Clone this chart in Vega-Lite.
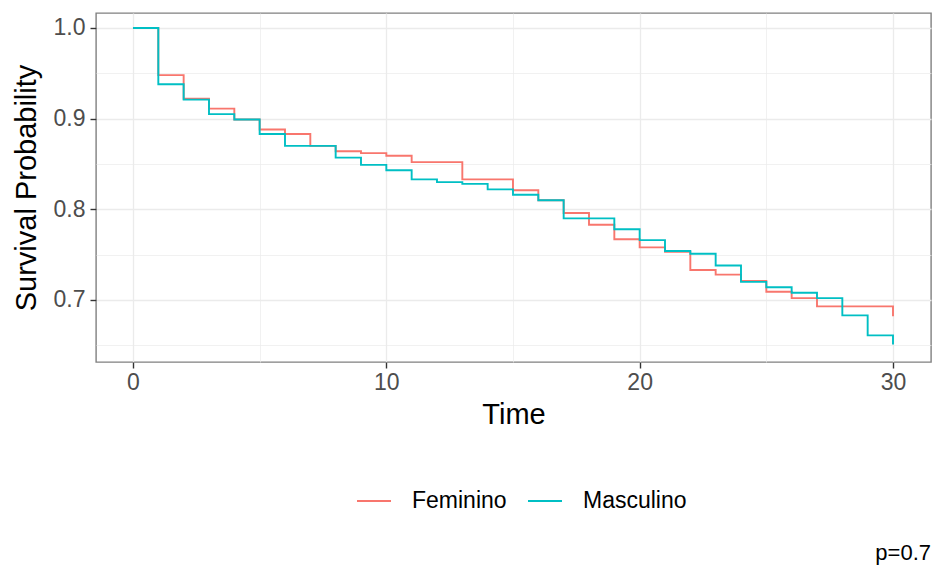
{
  "$schema": "https://vega.github.io/schema/vega-lite/v6.json",
  "width": 835,
  "height": 349,
  "autosize": "none",
  "padding": {"left": 96, "top": 13, "right": 2, "bottom": 205},
  "background": "white",
  "title": {"text": "p=0.7", "orient": "bottom", "anchor": "end", "fontSize": 22, "fontWeight": "normal", "font": "Liberation Sans", "color": "black", "offset": 30},
  "config": {
    "view": {"stroke": "#808080", "strokeWidth": 1.4},
    "font": "Liberation Sans"
  },
  "data": {
    "values": [
      {"time": 0, "surv": 1.0, "sex": "Feminino"},
      {"time": 1, "surv": 0.948, "sex": "Feminino"},
      {"time": 2, "surv": 0.922, "sex": "Feminino"},
      {"time": 3, "surv": 0.911, "sex": "Feminino"},
      {"time": 4, "surv": 0.899, "sex": "Feminino"},
      {"time": 5, "surv": 0.888, "sex": "Feminino"},
      {"time": 6, "surv": 0.883, "sex": "Feminino"},
      {"time": 7, "surv": 0.870, "sex": "Feminino"},
      {"time": 8, "surv": 0.864, "sex": "Feminino"},
      {"time": 9, "surv": 0.862, "sex": "Feminino"},
      {"time": 10, "surv": 0.859, "sex": "Feminino"},
      {"time": 11, "surv": 0.852, "sex": "Feminino"},
      {"time": 13, "surv": 0.833, "sex": "Feminino"},
      {"time": 15, "surv": 0.821, "sex": "Feminino"},
      {"time": 16, "surv": 0.810, "sex": "Feminino"},
      {"time": 17, "surv": 0.796, "sex": "Feminino"},
      {"time": 18, "surv": 0.783, "sex": "Feminino"},
      {"time": 19, "surv": 0.767, "sex": "Feminino"},
      {"time": 20, "surv": 0.758, "sex": "Feminino"},
      {"time": 21, "surv": 0.753, "sex": "Feminino"},
      {"time": 22, "surv": 0.733, "sex": "Feminino"},
      {"time": 23, "surv": 0.728, "sex": "Feminino"},
      {"time": 24, "surv": 0.721, "sex": "Feminino"},
      {"time": 25, "surv": 0.709, "sex": "Feminino"},
      {"time": 26, "surv": 0.702, "sex": "Feminino"},
      {"time": 27, "surv": 0.693, "sex": "Feminino"},
      {"time": 30, "surv": 0.682, "sex": "Feminino"},
      {"time": 0, "surv": 1.0, "sex": "Masculino"},
      {"time": 1, "surv": 0.938, "sex": "Masculino"},
      {"time": 2, "surv": 0.921, "sex": "Masculino"},
      {"time": 3, "surv": 0.905, "sex": "Masculino"},
      {"time": 4, "surv": 0.899, "sex": "Masculino"},
      {"time": 5, "surv": 0.883, "sex": "Masculino"},
      {"time": 6, "surv": 0.870, "sex": "Masculino"},
      {"time": 8, "surv": 0.857, "sex": "Masculino"},
      {"time": 9, "surv": 0.849, "sex": "Masculino"},
      {"time": 10, "surv": 0.843, "sex": "Masculino"},
      {"time": 11, "surv": 0.833, "sex": "Masculino"},
      {"time": 12, "surv": 0.830, "sex": "Masculino"},
      {"time": 13, "surv": 0.828, "sex": "Masculino"},
      {"time": 14, "surv": 0.822, "sex": "Masculino"},
      {"time": 15, "surv": 0.816, "sex": "Masculino"},
      {"time": 16, "surv": 0.810, "sex": "Masculino"},
      {"time": 17, "surv": 0.790, "sex": "Masculino"},
      {"time": 19, "surv": 0.778, "sex": "Masculino"},
      {"time": 20, "surv": 0.766, "sex": "Masculino"},
      {"time": 21, "surv": 0.754, "sex": "Masculino"},
      {"time": 22, "surv": 0.751, "sex": "Masculino"},
      {"time": 23, "surv": 0.738, "sex": "Masculino"},
      {"time": 24, "surv": 0.720, "sex": "Masculino"},
      {"time": 25, "surv": 0.714, "sex": "Masculino"},
      {"time": 26, "surv": 0.708, "sex": "Masculino"},
      {"time": 27, "surv": 0.702, "sex": "Masculino"},
      {"time": 28, "surv": 0.683, "sex": "Masculino"},
      {"time": 29, "surv": 0.661, "sex": "Masculino"},
      {"time": 30, "surv": 0.651, "sex": "Masculino"}
    ]
  },
  "mark": {"type": "line", "interpolate": "step-after", "strokeWidth": 1.9},
  "encoding": {
    "x": {
      "field": "time",
      "type": "quantitative",
      "title": "Time",
      "scale": {"domain": [-1.46, 31.5], "nice": false, "zero": false},
      "axis": {
        "values": [0, 5, 10, 15, 20, 25, 30],
        "labelExpr": "datum.value % 10 === 0 ? datum.label : ''",
        "domain": false,
        "grid": true,
        "gridColor": "#EBEBEB",
        "gridWidth": {"condition": {"test": "datum.value % 10 === 0", "value": 1.3}, "value": 0.7},
        "tickOpacity": {"condition": {"test": "datum.value % 10 === 0", "value": 1}, "value": 0},
        "tickColor": "#333333",
        "tickSize": 6,
        "tickWidth": 1.4,
        "labelColor": "#4D4D4D",
        "labelFontSize": 23,
        "labelPadding": 3,
        "labelFont": "Liberation Sans",
        "titleFont": "Liberation Sans",
        "titleFontSize": 29,
        "titleFontWeight": "normal",
        "titleColor": "black",
        "titlePadding": 6
      }
    },
    "y": {
      "field": "surv",
      "type": "quantitative",
      "title": "Survival Probability",
      "scale": {"domain": [0.6316, 1.0165], "nice": false, "zero": false},
      "axis": {
        "values": [0.65, 0.7, 0.75, 0.8, 0.85, 0.9, 0.95, 1.0],
        "format": ".1f",
        "labelExpr": "round(datum.value * 100) % 10 === 0 ? datum.label : ''",
        "domain": false,
        "grid": true,
        "gridColor": "#EBEBEB",
        "gridWidth": {"condition": {"test": "round(datum.value * 100) % 10 === 0", "value": 1.3}, "value": 0.7},
        "tickOpacity": {"condition": {"test": "round(datum.value * 100) % 10 === 0", "value": 1}, "value": 0},
        "tickColor": "#333333",
        "tickSize": 6,
        "tickWidth": 1.4,
        "labelColor": "#4D4D4D",
        "labelFontSize": 23,
        "labelPadding": 5,
        "labelFont": "Liberation Sans",
        "titleFont": "Liberation Sans",
        "titleFontSize": 29,
        "titleFontWeight": "normal",
        "titleColor": "black",
        "titlePadding": 12
      }
    },
    "color": {
      "field": "sex",
      "type": "nominal",
      "scale": {"domain": ["Feminino", "Masculino"], "range": ["#F8766D", "#00BFC4"]},
      "legend": {
        "title": null,
        "orient": "none",
        "direction": "horizontal",
        "legendX": 260,
        "legendY": 470,
        "symbolType": "stroke",
        "symbolSize": 1156,
        "symbolStrokeWidth": 2,
        "labelFontSize": 23,
        "labelFont": "Liberation Sans",
        "labelColor": "black",
        "labelOffset": 20,
        "columnPadding": 17
      }
    }
  }
}
